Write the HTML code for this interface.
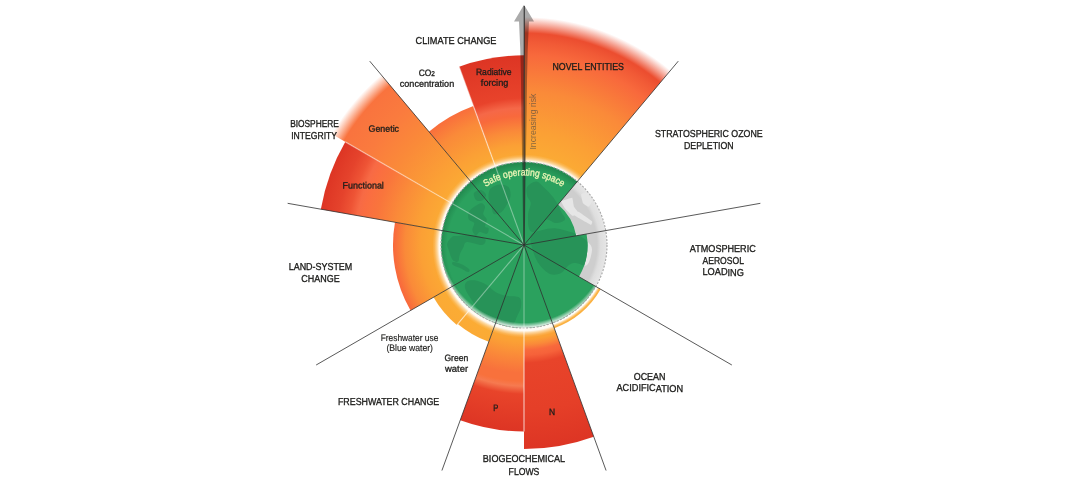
<!DOCTYPE html>
<html lang="en"><head><meta charset="utf-8"><title>Planetary boundaries</title>
<style>html,body{margin:0;padding:0;background:#fff;}body{width:1075px;height:500px;overflow:hidden;}svg{display:block;}</style>
</head><body>
<svg width="1075" height="500" viewBox="0 0 1075 500">
<defs>
<radialGradient id="g_novel" gradientUnits="userSpaceOnUse" cx="524.0" cy="245.0" r="232"><stop offset="0.3578" stop-color="#fbad34"/><stop offset="0.4914" stop-color="#fba035"/><stop offset="0.6638" stop-color="#fa8a39"/><stop offset="0.8190" stop-color="#f8693c"/><stop offset="0.8750" stop-color="#f15a36"/><stop offset="0.9095" stop-color="#ec4e30"/><stop offset="0.9138" stop-color="#ec4e30"/><stop offset="0.9828" stop-color="#ec4e30" stop-opacity="0"/></radialGradient>
<radialGradient id="g_n" gradientUnits="userSpaceOnUse" cx="524.0" cy="245.0" r="204"><stop offset="0.4069" stop-color="#fbad34"/><stop offset="0.4608" stop-color="#fba035"/><stop offset="0.4877" stop-color="#fa8a39"/><stop offset="0.5147" stop-color="#f8693c"/><stop offset="0.5392" stop-color="#f6623a"/><stop offset="0.5784" stop-color="#e8442a"/><stop offset="0.8088" stop-color="#e53f28"/><stop offset="1.0000" stop-color="#dd3524"/></radialGradient>
<radialGradient id="g_p" gradientUnits="userSpaceOnUse" cx="524.0" cy="245.0" r="186.5"><stop offset="0.4450" stop-color="#fbad34"/><stop offset="0.5201" stop-color="#fba035"/><stop offset="0.5952" stop-color="#fa8a39"/><stop offset="0.6863" stop-color="#f8713c"/><stop offset="0.7292" stop-color="#f8713c"/><stop offset="0.7560" stop-color="#f67a50"/><stop offset="0.7989" stop-color="#e8442a"/><stop offset="1.0000" stop-color="#dd3524"/></radialGradient>
<radialGradient id="g_gw" gradientUnits="userSpaceOnUse" cx="524.0" cy="245.0" r="103"><stop offset="0.8058" stop-color="#fbad34"/><stop offset="1.0000" stop-color="#fbaa35"/></radialGradient>
<radialGradient id="g_fw" gradientUnits="userSpaceOnUse" cx="524.0" cy="245.0" r="104.5"><stop offset="0.7943" stop-color="#fbad34"/><stop offset="1.0000" stop-color="#fbaa35"/></radialGradient>
<radialGradient id="g_land" gradientUnits="userSpaceOnUse" cx="524.0" cy="245.0" r="131"><stop offset="0.6336" stop-color="#fbad34"/><stop offset="0.7863" stop-color="#fba035"/><stop offset="0.9084" stop-color="#fa8a39"/><stop offset="1.0000" stop-color="#f8673c"/></radialGradient>
<radialGradient id="g_func" gradientUnits="userSpaceOnUse" cx="524.0" cy="245.0" r="206.3"><stop offset="0.4023" stop-color="#fbad34"/><stop offset="0.5138" stop-color="#fba035"/><stop offset="0.6302" stop-color="#fa8a39"/><stop offset="0.7271" stop-color="#f9753c"/><stop offset="0.7901" stop-color="#fa6d41"/><stop offset="0.8192" stop-color="#f76a45"/><stop offset="0.8580" stop-color="#ee5435"/><stop offset="0.9113" stop-color="#e5432c"/><stop offset="1.0000" stop-color="#dd3524"/></radialGradient>
<radialGradient id="g_gen" gradientUnits="userSpaceOnUse" cx="524.0" cy="245.0" r="226"><stop offset="0.3673" stop-color="#fbad34"/><stop offset="0.4779" stop-color="#fba035"/><stop offset="0.6549" stop-color="#fa8a39"/><stop offset="0.7965" stop-color="#fa7b3e"/><stop offset="0.9204" stop-color="#f9733e"/><stop offset="0.9823" stop-color="#f9733e" stop-opacity="0"/></radialGradient>
<radialGradient id="g_co2" gradientUnits="userSpaceOnUse" cx="524.0" cy="245.0" r="148"><stop offset="0.5608" stop-color="#fbad34"/><stop offset="0.6959" stop-color="#fba035"/><stop offset="0.8784" stop-color="#fa8a39"/><stop offset="1.0000" stop-color="#f96e3c"/></radialGradient>
<radialGradient id="g_rf" gradientUnits="userSpaceOnUse" cx="524.0" cy="245.0" r="189.7"><stop offset="0.4375" stop-color="#fbad34"/><stop offset="0.5271" stop-color="#fba035"/><stop offset="0.6009" stop-color="#fa8a39"/><stop offset="0.6800" stop-color="#f8693c"/><stop offset="0.7222" stop-color="#f56848"/><stop offset="0.7749" stop-color="#e8432b"/><stop offset="1.0000" stop-color="#dd3524"/></radialGradient>
<radialGradient id="g_ocean" gradientUnits="userSpaceOnUse" cx="524.0" cy="245.0" r="88.5"><stop offset="0.9548" stop-color="#ffffff"/><stop offset="0.9695" stop-color="#fdd79c"/><stop offset="0.9853" stop-color="#fbb447"/><stop offset="1.0000" stop-color="#fbae3c"/></radialGradient>
<clipPath id="cGlobe"><circle cx="524.0" cy="245.0" r="83.0"/></clipPath>
<clipPath id="cGreen"><path d="M524.00,245.00 L524.00,162.00 A83.00,83.00 0 0 1 577.35,181.42 Z M524.00,245.00 L558.07,204.40 A53.00,53.00 0 0 1 576.19,235.80 Z M524.00,245.00 L586.54,233.97 A63.50,63.50 0 0 1 578.99,276.75 Z M524.00,245.00 L595.88,286.50 A83.00,83.00 0 0 1 552.39,322.99 Z M524.00,245.00 L552.39,322.99 A83.00,83.00 0 0 1 495.61,322.99 Z M524.00,245.00 L495.61,322.99 A83.00,83.00 0 0 1 452.12,286.50 Z M524.00,245.00 L452.12,286.50 A83.00,83.00 0 0 1 442.26,230.59 Z M524.00,245.00 L442.26,230.59 A83.00,83.00 0 0 1 470.65,181.42 Z M524.00,245.00 L470.65,181.42 A83.00,83.00 0 0 1 524.00,162.00 Z"/></clipPath>
<radialGradient id="greyg" gradientUnits="userSpaceOnUse" cx="524.0" cy="245.0" r="83.0"><stop offset="0.8795" stop-color="#cecece"/><stop offset="0.9217" stop-color="#dedede"/><stop offset="1" stop-color="#e6e6e6"/></radialGradient>
<radialGradient id="greeng" gradientUnits="userSpaceOnUse" cx="524.0" cy="248.0" r="87"><stop offset="0.8851" stop-color="#176a3b" stop-opacity="0"/><stop offset="0.9655" stop-color="#176a3b" stop-opacity="0.4"/><stop offset="1" stop-color="#176a3b" stop-opacity="0.45"/></radialGradient>
<radialGradient id="inglow" gradientUnits="userSpaceOnUse" cx="524.0" cy="240.0" r="88"><stop offset="0.9386" stop-color="#fff" stop-opacity="0"/><stop offset="0.9773" stop-color="#fff" stop-opacity="0.6"/><stop offset="1" stop-color="#fff" stop-opacity="0.97"/></radialGradient>
<radialGradient id="glow" gradientUnits="userSpaceOnUse" cx="524.0" cy="246.0" r="93"><stop offset="0.7527" stop-color="#fff" stop-opacity="0.95"/><stop offset="0.9118" stop-color="#fff" stop-opacity="0.95"/><stop offset="0.9355" stop-color="#fff" stop-opacity="0.5"/><stop offset="0.9624" stop-color="#fff" stop-opacity="0.15"/><stop offset="0.9839" stop-color="#fff" stop-opacity="0"/><stop offset="1" stop-color="#fff" stop-opacity="0"/></radialGradient>
<path id="arc" d="M463.81,210.25 A69.5,69.5 0 0 1 584.19,210.25"/>
</defs>
<rect width="1075" height="500" fill="#fff"/>
<path d="M524.00,245.00 L524.00,13.00 A232.00,232.00 0 0 1 673.13,67.28 Z" fill="url(#g_novel)"/>
<path d="M524.00,245.00 L593.77,436.70 A204.00,204.00 0 0 1 524.00,449.00 Z" fill="url(#g_n)"/>
<path d="M524.00,245.00 L524.00,431.50 A186.50,186.50 0 0 1 460.21,420.25 Z" fill="url(#g_p)"/>
<path d="M524.00,245.00 L488.77,341.79 A103.00,103.00 0 0 1 457.79,323.90 Z" fill="url(#g_gw)"/>
<path d="M524.00,245.00 L456.83,325.05 A104.50,104.50 0 0 1 433.50,297.25 Z" fill="url(#g_fw)"/>
<path d="M524.00,245.00 L410.55,310.50 A131.00,131.00 0 0 1 394.99,222.25 Z" fill="url(#g_land)"/>
<path d="M524.00,245.00 L320.83,209.18 A206.30,206.30 0 0 1 345.34,141.85 Z" fill="url(#g_func)"/>
<path d="M524.00,245.00 L328.28,132.00 A226.00,226.00 0 0 1 378.73,71.87 Z" fill="url(#g_gen)"/>
<path d="M524.00,245.00 L428.87,131.63 A148.00,148.00 0 0 1 473.38,105.93 Z" fill="url(#g_co2)"/>
<path d="M524.00,245.00 L459.12,66.74 A189.70,189.70 0 0 1 524.00,55.30 Z" fill="url(#g_rf)"/>
<circle cx="524.0" cy="246.0" r="93" fill="url(#glow)"/>
<g clip-path="url(#cGlobe)">
<circle cx="524.0" cy="245.0" r="83.0" fill="url(#greyg)"/>
<g transform="translate(524.0,245.0)"><path d="M-33.6,-56.2 C-31.8,-58.4 -27.6,-60.2 -24.6,-60.5 C-21.6,-60.8 -17.4,-59.9 -15.6,-58.0 C-13.8,-56.1 -13.2,-52.0 -13.5,-49.0 C-13.8,-46.0 -15.8,-42.7 -17.4,-40.0 C-18.9,-37.3 -20.7,-34.3 -22.8,-32.8 C-24.9,-31.3 -28.4,-30.1 -30.0,-31.0 C-31.6,-31.9 -31.8,-35.5 -32.7,-38.2 C-33.6,-40.9 -35.2,-44.2 -35.4,-47.2 C-35.5,-50.2 -35.4,-54.0 -33.6,-56.2Z M-55.2,-32.8 C-54.3,-34.9 -51.9,-36.7 -49.8,-38.2 C-47.7,-39.7 -44.4,-41.8 -42.6,-41.8 C-40.8,-41.8 -39.3,-40.0 -39.0,-38.2 C-38.7,-36.4 -41.1,-33.1 -40.8,-31.0 C-40.5,-28.9 -37.5,-27.7 -37.2,-25.6 C-36.9,-23.5 -39.3,-19.9 -39.0,-18.4 C-38.7,-16.9 -35.7,-17.8 -35.4,-16.6 C-35.1,-15.4 -35.7,-11.8 -37.2,-11.2 C-38.7,-10.6 -42.6,-13.3 -44.4,-13.0 C-46.2,-12.7 -46.8,-9.1 -48.0,-9.4 C-49.2,-9.7 -51.3,-12.7 -51.6,-14.8 C-51.9,-16.9 -49.2,-20.2 -49.8,-22.0 C-50.4,-23.8 -54.3,-23.8 -55.2,-25.6 C-56.1,-27.4 -56.1,-30.7 -55.2,-32.8Z M-50.0,-52.0 C-49.2,-53.7 -45.0,-55.3 -43.0,-55.0 C-41.0,-54.7 -38.2,-51.8 -38.0,-50.0 C-37.8,-48.2 -40.3,-45.3 -42.0,-44.5 C-43.7,-43.7 -46.7,-43.8 -48.0,-45.0 C-49.3,-46.2 -50.8,-50.3 -50.0,-52.0Z M-66.0,-9.0 C-62.7,-9.3 -56.5,-10.5 -52.0,-10.0 C-47.5,-9.5 -40.7,-7.7 -39.0,-6.0 C-37.3,-4.3 -39.0,-0.5 -42.0,0.0 C-45.0,0.5 -53.9,-3.4 -57.0,-3.0 C-60.1,-2.6 -59.4,0.1 -60.6,2.2 C-61.8,4.3 -63.3,7.0 -64.2,9.4 C-65.1,11.8 -64.8,15.7 -66.0,16.6 C-67.2,17.5 -69.9,16.6 -71.4,14.8 C-72.9,13.0 -74.1,8.5 -75.0,5.8 C-75.9,3.1 -77.3,0.9 -76.8,-1.4 C-76.3,-3.7 -73.8,-6.7 -72.0,-8.0 C-70.2,-9.3 -69.3,-8.7 -66.0,-9.0Z M-71.0,17.0 C-69.7,16.8 -65.7,17.8 -63.0,19.0 C-60.3,20.2 -56.2,22.7 -55.0,24.0 C-53.8,25.3 -54.5,27.2 -56.0,27.0 C-57.5,26.8 -61.5,24.2 -64.0,23.0 C-66.5,21.8 -69.8,21.0 -71.0,20.0 C-72.2,19.0 -72.3,17.2 -71.0,17.0Z M-57.0,36.4 C-55.2,35.0 -51.3,34.9 -48.0,35.5 C-44.7,36.1 -40.5,38.0 -37.2,40.0 C-33.9,42.0 -31.5,45.4 -28.2,47.2 C-24.9,49.0 -21.3,49.9 -17.4,50.8 C-13.5,51.7 -7.2,50.8 -4.8,52.6 C-2.4,54.4 -2.7,58.6 -3.0,61.6 C-3.3,64.6 -5.1,67.5 -6.6,70.6 C-8.1,73.7 -9.0,78.4 -12.0,80.0 C-15.0,81.6 -19.8,81.7 -24.6,80.0 C-29.4,78.3 -36.3,74.0 -40.8,70.0 C-45.3,66.0 -48.6,60.4 -51.6,56.0 C-54.6,51.6 -57.9,46.9 -58.8,43.6 C-59.7,40.3 -58.8,37.8 -57.0,36.4Z M3.2,-58.0 C4.7,-60.4 9.5,-63.4 12.2,-63.4 C14.9,-63.4 17.0,-60.1 19.4,-58.0 C21.8,-55.9 24.5,-53.2 26.6,-50.8 C28.7,-48.4 30.2,-46.6 32.0,-43.6 C33.8,-40.6 35.9,-35.8 37.4,-32.8 C38.9,-29.8 41.9,-27.4 41.0,-25.6 C40.1,-23.8 35.0,-22.0 32.0,-22.0 C29.0,-22.0 25.4,-25.9 23.0,-25.6 C20.6,-25.3 19.7,-22.3 17.6,-20.2 C15.5,-18.1 12.5,-13.6 10.4,-13.0 C8.3,-12.4 6.0,-13.6 5.0,-16.6 C4.0,-19.6 3.8,-26.8 4.1,-31.0 C4.4,-35.2 6.9,-38.8 6.8,-41.8 C6.7,-44.8 3.8,-46.3 3.2,-49.0 C2.6,-51.7 1.7,-55.6 3.2,-58.0Z M6.8,-9.4 C8.2,-12.9 13.4,-13.6 17.6,-14.8 C21.8,-16.0 27.2,-16.9 32.0,-16.6 C36.8,-16.3 42.5,-14.2 46.4,-13.0 C50.3,-11.8 52.5,-11.1 55.4,-9.4 C58.3,-7.7 61.9,-5.4 64.0,-3.0 C66.1,-0.6 68.2,1.2 68.0,5.0 C67.8,8.8 65.7,17.8 63.0,20.0 C60.3,22.2 55.0,18.0 52.0,18.0 C49.0,18.0 47.5,18.3 45.0,20.0 C42.5,21.7 40.2,26.5 37.0,28.0 C33.8,29.5 29.7,30.5 26.0,29.0 C22.3,27.5 17.8,22.8 15.0,19.0 C12.2,15.2 10.4,10.7 9.0,6.0 C7.6,1.3 5.4,-5.9 6.8,-9.4Z M37.4,-43.6 C37.8,-44.1 47.6,-47.5 48.2,-47.2 C48.8,-46.9 49.6,-39.0 50.0,-38.2 C50.4,-37.4 55.5,-31.4 55.4,-31.0 C55.3,-30.6 48.9,-28.9 48.2,-29.2 C47.5,-29.5 41.5,-35.7 41.0,-36.4 C40.5,-37.1 37.0,-43.1 37.4,-43.6Z M50.0,-33.7 C50.3,-33.8 54.5,-33.3 55.4,-32.8 C56.3,-32.3 67.4,-24.4 68.0,-23.8 C68.6,-23.2 67.6,-20.1 67.1,-20.2 C66.6,-20.3 58.1,-25.1 57.2,-25.6 C56.3,-26.1 50.4,-29.6 50.0,-30.0 C49.6,-30.4 49.7,-33.6 50.0,-33.7Z M57.2,-50.8 C57.5,-51.3 63.9,-53.0 64.4,-52.6 C64.9,-52.2 68.0,-44.3 68.0,-43.6 C68.0,-42.9 64.9,-38.3 64.4,-38.2 C64.0,-38.1 59.4,-41.2 59.0,-41.8 C58.6,-42.4 56.9,-50.3 57.2,-50.8Z" fill="#e6e6e6"/></g>
</g>
<g clip-path="url(#cGreen)">
<rect x="439.0" y="160.0" width="170.0" height="170.0" fill="#2ba15e"/>
<g transform="translate(524.0,245.0)"><path d="M-33.6,-56.2 C-31.8,-58.4 -27.6,-60.2 -24.6,-60.5 C-21.6,-60.8 -17.4,-59.9 -15.6,-58.0 C-13.8,-56.1 -13.2,-52.0 -13.5,-49.0 C-13.8,-46.0 -15.8,-42.7 -17.4,-40.0 C-18.9,-37.3 -20.7,-34.3 -22.8,-32.8 C-24.9,-31.3 -28.4,-30.1 -30.0,-31.0 C-31.6,-31.9 -31.8,-35.5 -32.7,-38.2 C-33.6,-40.9 -35.2,-44.2 -35.4,-47.2 C-35.5,-50.2 -35.4,-54.0 -33.6,-56.2Z M-55.2,-32.8 C-54.3,-34.9 -51.9,-36.7 -49.8,-38.2 C-47.7,-39.7 -44.4,-41.8 -42.6,-41.8 C-40.8,-41.8 -39.3,-40.0 -39.0,-38.2 C-38.7,-36.4 -41.1,-33.1 -40.8,-31.0 C-40.5,-28.9 -37.5,-27.7 -37.2,-25.6 C-36.9,-23.5 -39.3,-19.9 -39.0,-18.4 C-38.7,-16.9 -35.7,-17.8 -35.4,-16.6 C-35.1,-15.4 -35.7,-11.8 -37.2,-11.2 C-38.7,-10.6 -42.6,-13.3 -44.4,-13.0 C-46.2,-12.7 -46.8,-9.1 -48.0,-9.4 C-49.2,-9.7 -51.3,-12.7 -51.6,-14.8 C-51.9,-16.9 -49.2,-20.2 -49.8,-22.0 C-50.4,-23.8 -54.3,-23.8 -55.2,-25.6 C-56.1,-27.4 -56.1,-30.7 -55.2,-32.8Z M-50.0,-52.0 C-49.2,-53.7 -45.0,-55.3 -43.0,-55.0 C-41.0,-54.7 -38.2,-51.8 -38.0,-50.0 C-37.8,-48.2 -40.3,-45.3 -42.0,-44.5 C-43.7,-43.7 -46.7,-43.8 -48.0,-45.0 C-49.3,-46.2 -50.8,-50.3 -50.0,-52.0Z M-66.0,-9.0 C-62.7,-9.3 -56.5,-10.5 -52.0,-10.0 C-47.5,-9.5 -40.7,-7.7 -39.0,-6.0 C-37.3,-4.3 -39.0,-0.5 -42.0,0.0 C-45.0,0.5 -53.9,-3.4 -57.0,-3.0 C-60.1,-2.6 -59.4,0.1 -60.6,2.2 C-61.8,4.3 -63.3,7.0 -64.2,9.4 C-65.1,11.8 -64.8,15.7 -66.0,16.6 C-67.2,17.5 -69.9,16.6 -71.4,14.8 C-72.9,13.0 -74.1,8.5 -75.0,5.8 C-75.9,3.1 -77.3,0.9 -76.8,-1.4 C-76.3,-3.7 -73.8,-6.7 -72.0,-8.0 C-70.2,-9.3 -69.3,-8.7 -66.0,-9.0Z M-71.0,17.0 C-69.7,16.8 -65.7,17.8 -63.0,19.0 C-60.3,20.2 -56.2,22.7 -55.0,24.0 C-53.8,25.3 -54.5,27.2 -56.0,27.0 C-57.5,26.8 -61.5,24.2 -64.0,23.0 C-66.5,21.8 -69.8,21.0 -71.0,20.0 C-72.2,19.0 -72.3,17.2 -71.0,17.0Z M-57.0,36.4 C-55.2,35.0 -51.3,34.9 -48.0,35.5 C-44.7,36.1 -40.5,38.0 -37.2,40.0 C-33.9,42.0 -31.5,45.4 -28.2,47.2 C-24.9,49.0 -21.3,49.9 -17.4,50.8 C-13.5,51.7 -7.2,50.8 -4.8,52.6 C-2.4,54.4 -2.7,58.6 -3.0,61.6 C-3.3,64.6 -5.1,67.5 -6.6,70.6 C-8.1,73.7 -9.0,78.4 -12.0,80.0 C-15.0,81.6 -19.8,81.7 -24.6,80.0 C-29.4,78.3 -36.3,74.0 -40.8,70.0 C-45.3,66.0 -48.6,60.4 -51.6,56.0 C-54.6,51.6 -57.9,46.9 -58.8,43.6 C-59.7,40.3 -58.8,37.8 -57.0,36.4Z M3.2,-58.0 C4.7,-60.4 9.5,-63.4 12.2,-63.4 C14.9,-63.4 17.0,-60.1 19.4,-58.0 C21.8,-55.9 24.5,-53.2 26.6,-50.8 C28.7,-48.4 30.2,-46.6 32.0,-43.6 C33.8,-40.6 35.9,-35.8 37.4,-32.8 C38.9,-29.8 41.9,-27.4 41.0,-25.6 C40.1,-23.8 35.0,-22.0 32.0,-22.0 C29.0,-22.0 25.4,-25.9 23.0,-25.6 C20.6,-25.3 19.7,-22.3 17.6,-20.2 C15.5,-18.1 12.5,-13.6 10.4,-13.0 C8.3,-12.4 6.0,-13.6 5.0,-16.6 C4.0,-19.6 3.8,-26.8 4.1,-31.0 C4.4,-35.2 6.9,-38.8 6.8,-41.8 C6.7,-44.8 3.8,-46.3 3.2,-49.0 C2.6,-51.7 1.7,-55.6 3.2,-58.0Z M6.8,-9.4 C8.2,-12.9 13.4,-13.6 17.6,-14.8 C21.8,-16.0 27.2,-16.9 32.0,-16.6 C36.8,-16.3 42.5,-14.2 46.4,-13.0 C50.3,-11.8 52.5,-11.1 55.4,-9.4 C58.3,-7.7 61.9,-5.4 64.0,-3.0 C66.1,-0.6 68.2,1.2 68.0,5.0 C67.8,8.8 65.7,17.8 63.0,20.0 C60.3,22.2 55.0,18.0 52.0,18.0 C49.0,18.0 47.5,18.3 45.0,20.0 C42.5,21.7 40.2,26.5 37.0,28.0 C33.8,29.5 29.7,30.5 26.0,29.0 C22.3,27.5 17.8,22.8 15.0,19.0 C12.2,15.2 10.4,10.7 9.0,6.0 C7.6,1.3 5.4,-5.9 6.8,-9.4Z M37.4,-43.6 C37.8,-44.1 47.6,-47.5 48.2,-47.2 C48.8,-46.9 49.6,-39.0 50.0,-38.2 C50.4,-37.4 55.5,-31.4 55.4,-31.0 C55.3,-30.6 48.9,-28.9 48.2,-29.2 C47.5,-29.5 41.5,-35.7 41.0,-36.4 C40.5,-37.1 37.0,-43.1 37.4,-43.6Z M50.0,-33.7 C50.3,-33.8 54.5,-33.3 55.4,-32.8 C56.3,-32.3 67.4,-24.4 68.0,-23.8 C68.6,-23.2 67.6,-20.1 67.1,-20.2 C66.6,-20.3 58.1,-25.1 57.2,-25.6 C56.3,-26.1 50.4,-29.6 50.0,-30.0 C49.6,-30.4 49.7,-33.6 50.0,-33.7Z M57.2,-50.8 C57.5,-51.3 63.9,-53.0 64.4,-52.6 C64.9,-52.2 68.0,-44.3 68.0,-43.6 C68.0,-42.9 64.9,-38.3 64.4,-38.2 C64.0,-38.1 59.4,-41.2 59.0,-41.8 C58.6,-42.4 56.9,-50.3 57.2,-50.8Z" fill="#279358"/></g>
<circle cx="524.0" cy="245.0" r="83.0" fill="url(#greeng)"/>
<circle cx="524.0" cy="245.0" r="83.0" fill="url(#inglow)"/>
</g>
<path d="M600.64,289.25 A88.5,88.5 0 0 1 554.27,328.16 L552.56,323.46 A83.5,83.5 0 0 0 596.31,286.75 Z" fill="url(#g_ocean)"/>
<circle cx="524.0" cy="245.0" r="83.0" fill="none" stroke="#a6a6a6" stroke-width="1.1" stroke-dasharray="2 1.5"/>
<line x1="524.0" y1="245.0" x2="495.61" y2="167.01" stroke="#fff" stroke-opacity="0.38" stroke-width="1.1"/>
<line x1="495.61" y1="167.01" x2="459.12" y2="66.74" stroke="#fff" stroke-opacity="0.5" stroke-width="1.25"/>
<line x1="524.0" y1="245.0" x2="452.12" y2="203.50" stroke="#fff" stroke-opacity="0.38" stroke-width="1.1"/>
<line x1="452.12" y1="203.50" x2="345.34" y2="141.85" stroke="#fff" stroke-opacity="0.42" stroke-width="1.25"/>
<line x1="524.0" y1="245.0" x2="470.65" y2="308.58" stroke="#fff" stroke-opacity="0.38" stroke-width="1.1"/>
<line x1="470.65" y1="308.58" x2="456.83" y2="325.05" stroke="#fff" stroke-opacity="0.5" stroke-width="1.25"/>
<line x1="524.0" y1="245.0" x2="524.00" y2="328.00" stroke="#fff" stroke-opacity="0.38" stroke-width="1.1"/>
<line x1="524.00" y1="328.00" x2="524.00" y2="431.50" stroke="#fff" stroke-opacity="0.62" stroke-width="1.25"/>
<line x1="524.0" y1="245.0" x2="678.27" y2="61.15" stroke="#2e2e2e" stroke-width="0.8"/>
<line x1="524.0" y1="245.0" x2="760.35" y2="203.32" stroke="#2e2e2e" stroke-width="0.8"/>
<line x1="524.0" y1="245.0" x2="731.85" y2="365.00" stroke="#2e2e2e" stroke-width="0.8"/>
<line x1="524.0" y1="245.0" x2="606.08" y2="470.53" stroke="#2e2e2e" stroke-width="0.8"/>
<line x1="524.0" y1="245.0" x2="441.92" y2="470.53" stroke="#2e2e2e" stroke-width="0.8"/>
<line x1="524.0" y1="245.0" x2="316.15" y2="365.00" stroke="#2e2e2e" stroke-width="0.8"/>
<line x1="524.0" y1="245.0" x2="287.65" y2="203.32" stroke="#2e2e2e" stroke-width="0.8"/>
<line x1="524.0" y1="245.0" x2="369.73" y2="61.15" stroke="#2e2e2e" stroke-width="0.8"/>
<path d="M524.0,4.8 L534.0,21.5 L529.0,21.5 L527.7,50 L527.0,80 L526.5,120 L525.8,165 L524.7,245.0 L523.3,245.0 L522.2,165 L521.5,120 L521.0,80 L520.3,50 L519.0,21.5 L514.0,21.5 Z" fill="#000" fill-opacity="0.33"/>
<line x1="524.25" y1="6" x2="524.1" y2="245.0" stroke="#333" stroke-width="1.1"/>
<g font-family="'Liberation Sans', Arial, Helvetica, sans-serif">
<text x="456.0" y="44.2" transform="rotate(0.03 456.0 44.2)" font-size="10.1" text-anchor="middle" textLength="80.8" lengthAdjust="spacingAndGlyphs" fill="#1d1d1b" stroke="#1d1d1b" stroke-width="0.34">CLIMATE CHANGE</text>
<text x="426.8" y="75.9" transform="rotate(0.03 426.8 75.9)" font-size="9.2" text-anchor="middle" textLength="16.2" lengthAdjust="spacingAndGlyphs" fill="#1d1d1b" stroke="#1d1d1b" stroke-width="0.31">CO<tspan font-size="7">2</tspan></text>
<text x="427.0" y="86.8" transform="rotate(0.03 427.0 86.8)" font-size="9.2" text-anchor="middle" textLength="54.4" lengthAdjust="spacingAndGlyphs" fill="#1d1d1b" stroke="#1d1d1b" stroke-width="0.31">concentration</text>
<text x="493.8" y="74.8" transform="rotate(0.03 493.8 74.8)" font-size="9.2" text-anchor="middle" textLength="35.7" lengthAdjust="spacingAndGlyphs" fill="#1d1d1b" stroke="#1d1d1b" stroke-width="0.31">Radiative</text>
<text x="494.6" y="85.7" transform="rotate(0.03 494.6 85.7)" font-size="9.2" text-anchor="middle" textLength="27.5" lengthAdjust="spacingAndGlyphs" fill="#1d1d1b" stroke="#1d1d1b" stroke-width="0.31">forcing</text>
<text x="588.2" y="69.9" transform="rotate(0.03 588.2 69.9)" font-size="10.1" text-anchor="middle" textLength="71.4" lengthAdjust="spacingAndGlyphs" fill="#1d1d1b" stroke="#1d1d1b" stroke-width="0.34">NOVEL ENTITIES</text>
<text x="708.8" y="137" transform="rotate(0.03 708.8 137)" font-size="10.1" text-anchor="middle" textLength="107.6" lengthAdjust="spacingAndGlyphs" fill="#1d1d1b" stroke="#1d1d1b" stroke-width="0.34">STRATOSPHERIC OZONE</text>
<text x="708.8" y="148.8" transform="rotate(0.03 708.8 148.8)" font-size="10.1" text-anchor="middle" textLength="49.6" lengthAdjust="spacingAndGlyphs" fill="#1d1d1b" stroke="#1d1d1b" stroke-width="0.34">DEPLETION</text>
<text x="722.8" y="251.7" transform="rotate(0.03 722.8 251.7)" font-size="10.1" text-anchor="middle" textLength="65.9" lengthAdjust="spacingAndGlyphs" fill="#1d1d1b" stroke="#1d1d1b" stroke-width="0.34">ATMOSPHERIC</text>
<text x="723.2" y="263.6" transform="rotate(0.03 723.2 263.6)" font-size="10.1" text-anchor="middle" textLength="41.4" lengthAdjust="spacingAndGlyphs" fill="#1d1d1b" stroke="#1d1d1b" stroke-width="0.34">AEROSOL</text>
<text x="723.2" y="275.5" transform="rotate(0.03 723.2 275.5)" font-size="10.1" text-anchor="middle" textLength="41.4" lengthAdjust="spacingAndGlyphs" fill="#1d1d1b" stroke="#1d1d1b" stroke-width="0.34">LOADING</text>
<text x="649.6" y="379.7" transform="rotate(0.03 649.6 379.7)" font-size="10.1" text-anchor="middle" textLength="31.7" lengthAdjust="spacingAndGlyphs" fill="#1d1d1b" stroke="#1d1d1b" stroke-width="0.34">OCEAN</text>
<text x="649.8" y="391.5" transform="rotate(0.03 649.8 391.5)" font-size="10.1" text-anchor="middle" textLength="66.6" lengthAdjust="spacingAndGlyphs" fill="#1d1d1b" stroke="#1d1d1b" stroke-width="0.34">ACIDIFICATION</text>
<text x="524.0" y="462.3" transform="rotate(0.03 524.0 462.3)" font-size="10.1" text-anchor="middle" textLength="82.3" lengthAdjust="spacingAndGlyphs" fill="#1d1d1b" stroke="#1d1d1b" stroke-width="0.34">BIOGEOCHEMICAL</text>
<text x="524.0" y="474.6" transform="rotate(0.03 524.0 474.6)" font-size="10.1" text-anchor="middle" textLength="30.8" lengthAdjust="spacingAndGlyphs" fill="#1d1d1b" stroke="#1d1d1b" stroke-width="0.34">FLOWS</text>
<text x="388.6" y="404.7" transform="rotate(0.03 388.6 404.7)" font-size="10.1" text-anchor="middle" textLength="101.3" lengthAdjust="spacingAndGlyphs" fill="#1d1d1b" stroke="#1d1d1b" stroke-width="0.34">FRESHWATER CHANGE</text>
<text x="456.3" y="361" transform="rotate(0.03 456.3 361)" font-size="9.2" text-anchor="middle" textLength="23.8" lengthAdjust="spacingAndGlyphs" fill="#1d1d1b" stroke="#1d1d1b" stroke-width="0.31">Green</text>
<text x="456.6" y="371.8" transform="rotate(0.03 456.6 371.8)" font-size="9.2" text-anchor="middle" textLength="23.1" lengthAdjust="spacingAndGlyphs" fill="#1d1d1b" stroke="#1d1d1b" stroke-width="0.31">water</text>
<text x="409.5" y="340.8" transform="rotate(0.03 409.5 340.8)" font-size="9.4" text-anchor="middle" textLength="57.6" lengthAdjust="spacingAndGlyphs" fill="#1d1d1b" stroke="#1d1d1b" stroke-width="0.16">Freshwater use</text>
<text x="409.7" y="351.4" transform="rotate(0.03 409.7 351.4)" font-size="9.4" text-anchor="middle" textLength="46.6" lengthAdjust="spacingAndGlyphs" fill="#1d1d1b" stroke="#1d1d1b" stroke-width="0.16">(Blue water)</text>
<text x="320.5" y="269.7" transform="rotate(0.03 320.5 269.7)" font-size="10.1" text-anchor="middle" textLength="63.6" lengthAdjust="spacingAndGlyphs" fill="#1d1d1b" stroke="#1d1d1b" stroke-width="0.34">LAND-SYSTEM</text>
<text x="320.5" y="282.3" transform="rotate(0.03 320.5 282.3)" font-size="10.1" text-anchor="middle" textLength="38.4" lengthAdjust="spacingAndGlyphs" fill="#1d1d1b" stroke="#1d1d1b" stroke-width="0.34">CHANGE</text>
<text x="314.5" y="126.8" transform="rotate(0.03 314.5 126.8)" font-size="10.1" text-anchor="middle" textLength="48.7" lengthAdjust="spacingAndGlyphs" fill="#1d1d1b" stroke="#1d1d1b" stroke-width="0.34">BIOSPHERE</text>
<text x="314.1" y="138.8" transform="rotate(0.03 314.1 138.8)" font-size="10.1" text-anchor="middle" textLength="45.8" lengthAdjust="spacingAndGlyphs" fill="#1d1d1b" stroke="#1d1d1b" stroke-width="0.34">INTEGRITY</text>
<text x="383.8" y="131.7" transform="rotate(0.03 383.8 131.7)" font-size="9.2" text-anchor="middle" textLength="30.5" lengthAdjust="spacingAndGlyphs" fill="#1d1d1b" stroke="#1d1d1b" stroke-width="0.31">Genetic</text>
<text x="363.2" y="188.6" transform="rotate(0.03 363.2 188.6)" font-size="9.2" text-anchor="middle" textLength="41.3" lengthAdjust="spacingAndGlyphs" fill="#1d1d1b" stroke="#1d1d1b" stroke-width="0.31">Functional</text>
<text x="495.8" y="410.8" transform="rotate(0.03 495.8 410.8)" font-size="9.2" text-anchor="middle" textLength="5.1" lengthAdjust="spacingAndGlyphs" fill="#1d1d1b" stroke="#1d1d1b" stroke-width="0.31">P</text>
<text x="552.0" y="415.5" transform="rotate(0.03 552.0 415.5)" font-size="9.2" text-anchor="middle" textLength="6.1" lengthAdjust="spacingAndGlyphs" fill="#1d1d1b" stroke="#1d1d1b" stroke-width="0.31">N</text>
<text transform="translate(536,149.6) rotate(-90)" font-size="9.6" textLength="56" lengthAdjust="spacingAndGlyphs" fill="#444" fill-opacity="0.62">Increasing risk</text>
<text font-size="10" fill="#ecf6b6" stroke="#ecf6b6" stroke-width="0.3" text-anchor="middle" textLength="81" lengthAdjust="spacingAndGlyphs"><textPath href="#arc" startOffset="50%">Safe operating space</textPath></text>
</g>
</svg>
</body></html>
